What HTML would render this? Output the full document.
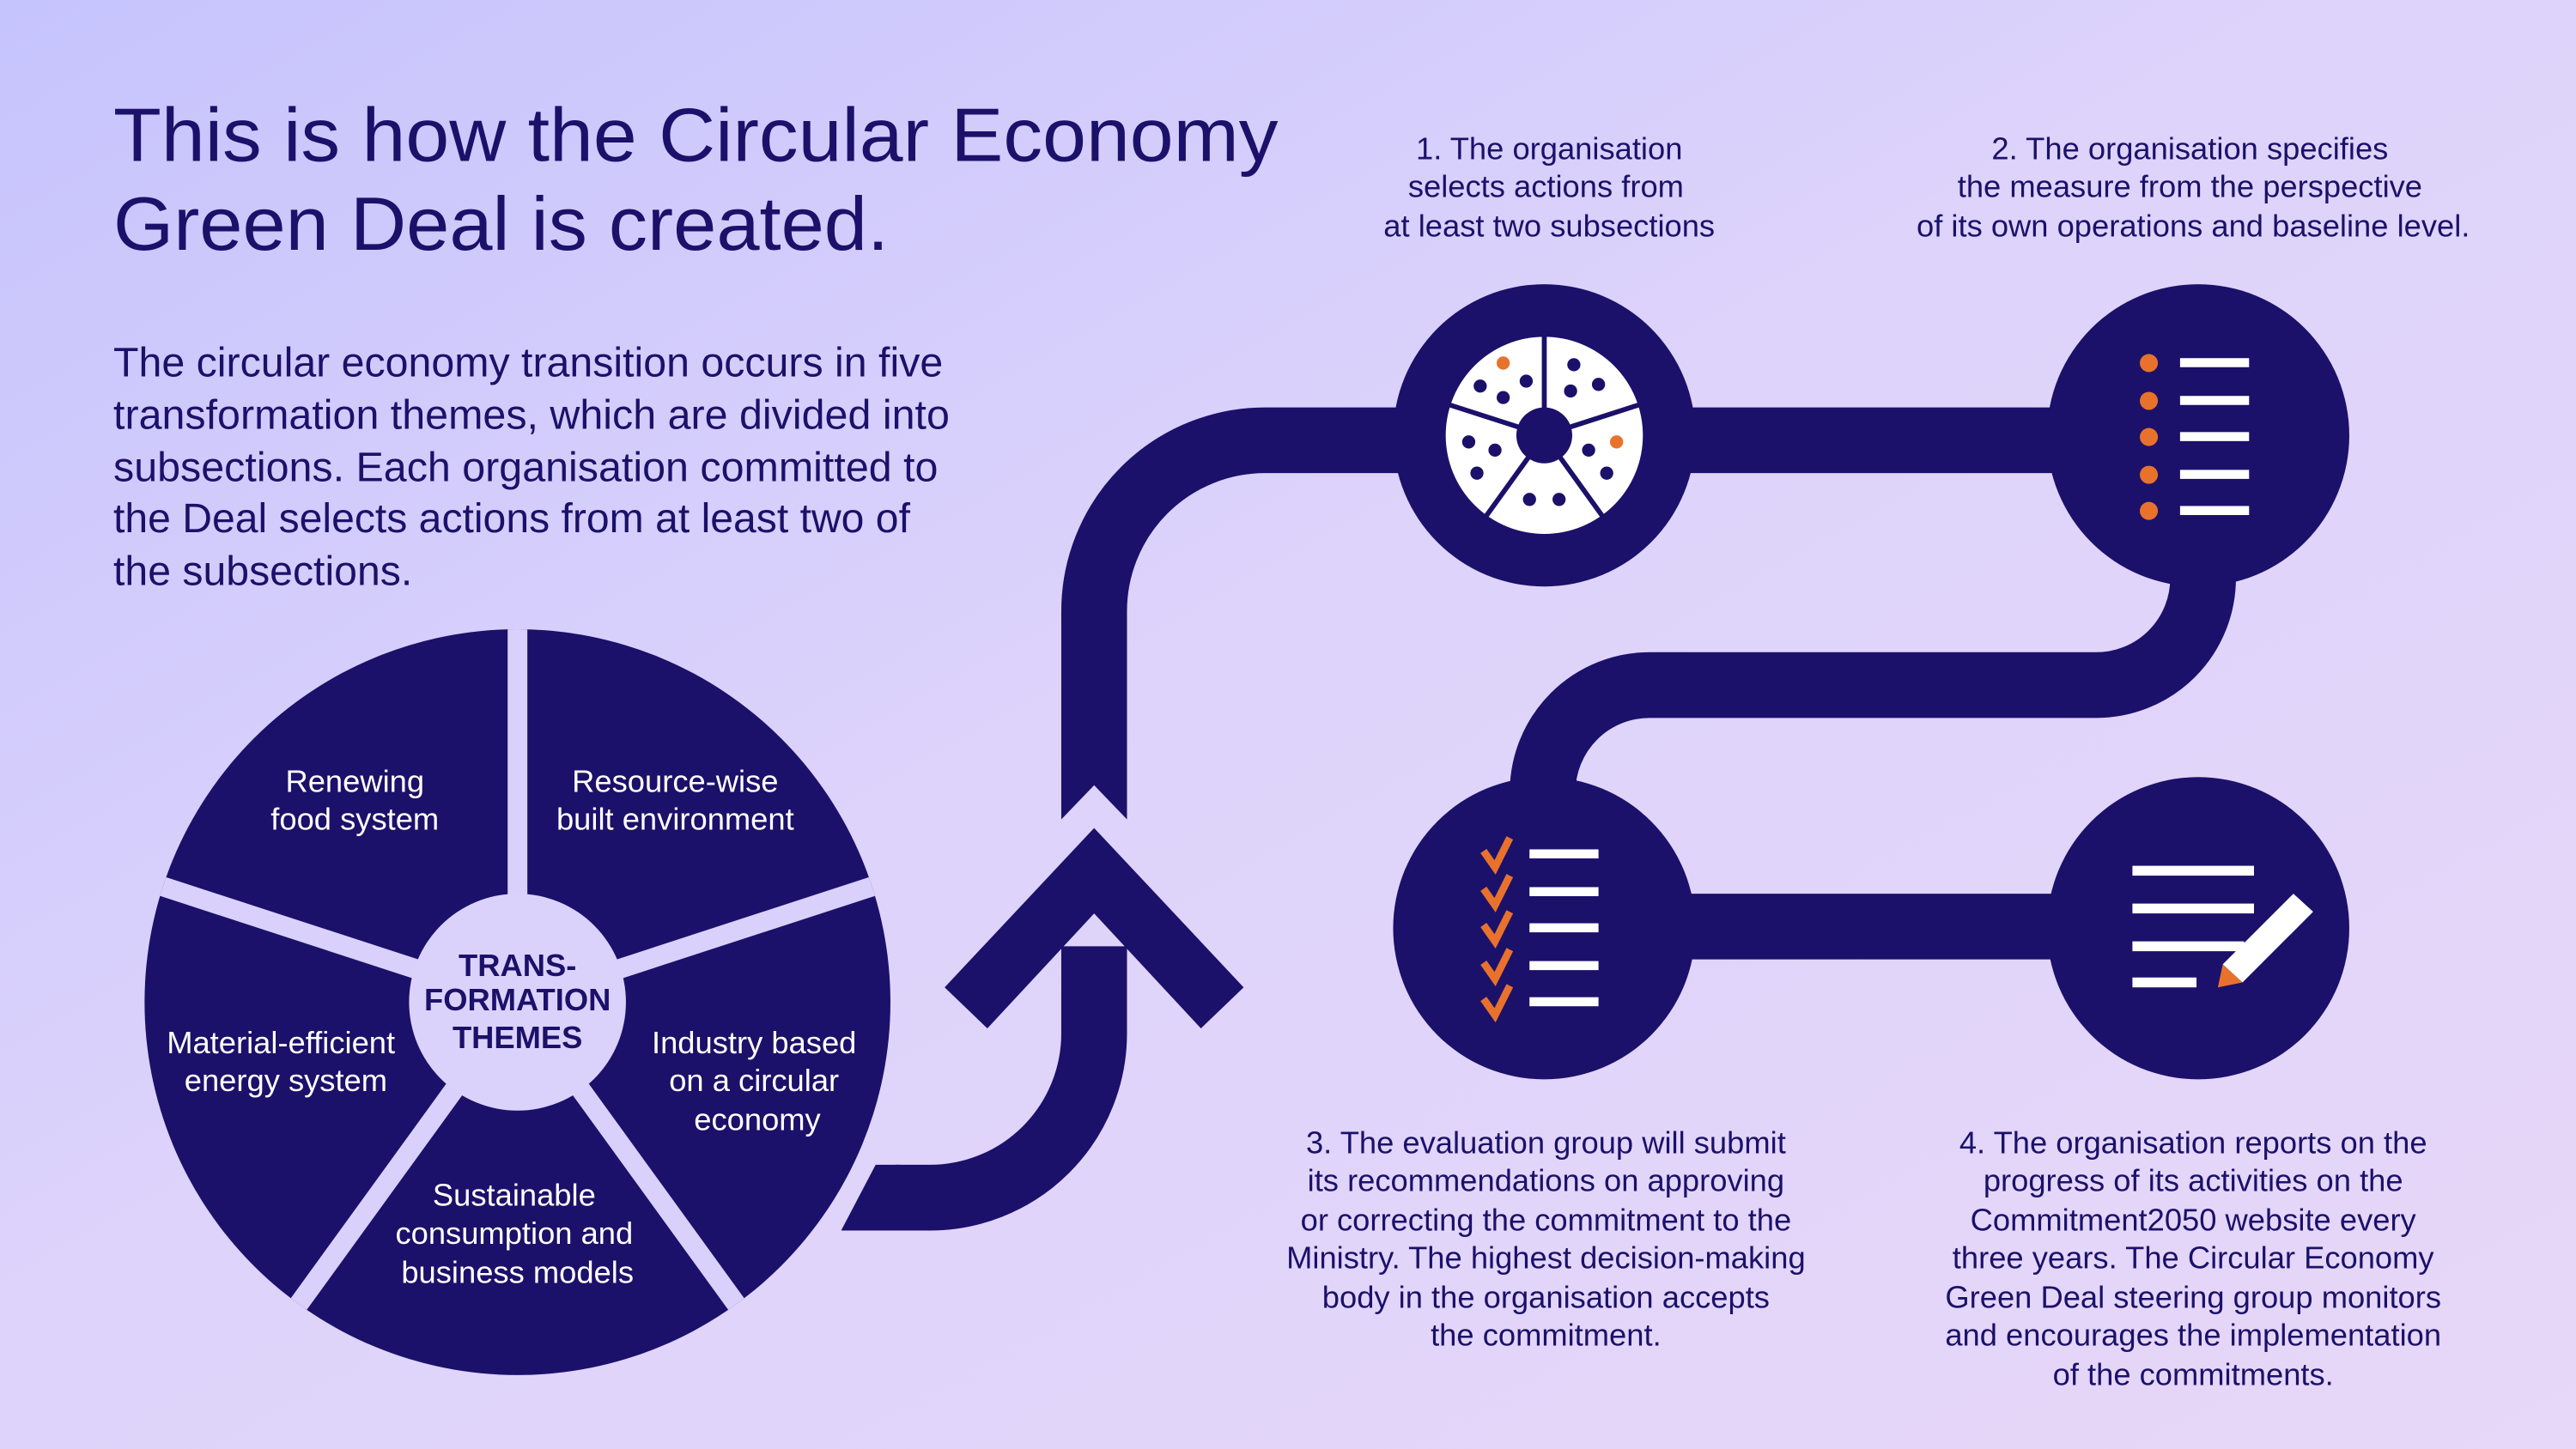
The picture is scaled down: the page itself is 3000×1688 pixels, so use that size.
<!DOCTYPE html>
<html><head><meta charset="utf-8"><style>
html,body{margin:0;padding:0;}
svg{display:block;}
text{font-family:"Liberation Sans",sans-serif;}
</style></head><body>
<svg width="3000" height="1688" viewBox="0 0 1568 882" preserveAspectRatio="none" xmlns="http://www.w3.org/2000/svg">
<defs>
<linearGradient id="bg" x1="0" y1="0" x2="1" y2="1">
<stop offset="0" stop-color="#c6c4fd"/>
<stop offset="0.45" stop-color="#ddd3fb"/>
<stop offset="1" stop-color="#e7d7f8"/>
</linearGradient>
<mask id="notch"><rect width="1568" height="882" fill="#fff"/><polygon points="640,505 666,478 692,505" fill="#000"/></mask>
<clipPath id="pc"><circle cx="315" cy="610" r="227"/></clipPath>
</defs>
<rect width="1568" height="882" fill="url(#bg)"/>
<g fill="#1b116a">
<text x="69" y="98" font-size="46" textLength="709" lengthAdjust="spacingAndGlyphs">This is how the Circular Economy</text>
<text x="69" y="152" font-size="46" textLength="472" lengthAdjust="spacingAndGlyphs">Green Deal is created.</text>
<g font-size="25">
<text x="69" y="229" textLength="505" lengthAdjust="spacingAndGlyphs">The circular economy transition occurs in five</text>
<text x="69" y="261" textLength="509" lengthAdjust="spacingAndGlyphs">transformation themes, which are divided into</text>
<text x="69" y="293" textLength="502" lengthAdjust="spacingAndGlyphs">subsections. Each organisation committed to</text>
<text x="69" y="324" textLength="485" lengthAdjust="spacingAndGlyphs">the Deal selects actions from at least two of</text>
<text x="69" y="356" textLength="182" lengthAdjust="spacingAndGlyphs">the subsections.</text>
</g>
<g font-size="19" text-anchor="middle">
<text x="943" y="97">1. The organisation</text>
<text x="941" y="120">selects actions from</text>
<text x="943" y="144">at least two subsections</text>
<text x="1333" y="97">2. The organisation specifies</text>
<text x="1333" y="120">the measure from the perspective</text>
<text x="1335" y="144">of its own operations and baseline level.</text>
<text x="941" y="702">3. The evaluation group will submit</text>
<text x="941" y="725">its recommendations on approving</text>
<text x="941" y="749">or correcting the commitment to the</text>
<text x="941" y="772">Ministry. The highest decision-making</text>
<text x="941" y="796">body in the organisation accepts</text>
<text x="941" y="819">the commitment.</text>
<text x="1335" y="702">4. The organisation reports on the</text>
<text x="1335" y="725">progress of its activities on the</text>
<text x="1335" y="749">Commitment2050 website every</text>
<text x="1335" y="772">three years. The Circular Economy</text>
<text x="1335" y="796">Green Deal steering group monitors</text>
<text x="1335" y="819">and encourages the implementation</text>
<text x="1335" y="843">of the commitments.</text>
</g>
</g>
<!-- pie -->
<circle cx="315" cy="610" r="227" fill="#1b116a"/>
<g stroke="#d9d1fb" stroke-width="12" clip-path="url(#pc)">
<line x1="315" y1="610" x2="315" y2="370"/>
<line x1="315" y1="610" x2="545" y2="535"/>
<line x1="315" y1="610" x2="457" y2="806"/>
<line x1="315" y1="610" x2="173" y2="806"/>
<line x1="315" y1="610" x2="85" y2="535"/>
</g>
<circle cx="315" cy="610" r="66" fill="#dbd2fb"/>
<g fill="#fff" font-size="19" text-anchor="middle">
<text x="216" y="482">Renewing</text><text x="216" y="505">food system</text>
<text x="411" y="482">Resource-wise</text><text x="411" y="505">built environment</text>
<text x="171" y="641">Material-efficient</text><text x="174" y="664">energy system</text>
<text x="459" y="641">Industry based</text><text x="459" y="664">on a circular</text><text x="461" y="688">economy</text>
<text x="313" y="734">Sustainable</text><text x="313" y="757">consumption and</text><text x="315" y="781">business models</text>
</g>
<g fill="#1b116a" font-size="19" font-weight="bold" text-anchor="middle">
<text x="315" y="594">TRANS-</text><text x="315" y="615">FORMATION</text><text x="315" y="638">THEMES</text>
</g>
<!-- path -->
<g fill="none" stroke="#1b116a" stroke-width="40">
<path d="M545,729 H566 A100,100 0 0 0 666,629 V576"/>
<path d="M666,499 V372 A104,104 0 0 1 770,268 H1340" mask="url(#notch)"/>
<path d="M1341,300 V352 A65,65 0 0 1 1276,417 H1004 A65,65 0 0 0 939,482"/>
<path d="M940,564 H1338"/>
</g>
<polygon points="512,749 533,709 548,709 548,749" fill="#1b116a"/>
<polygon points="575,601 666,504 757,601 731,626 666,556 601,626" fill="#1b116a"/>
<g fill="#1b116a">
<circle cx="940" cy="265" r="92"/><circle cx="1338" cy="265" r="92"/>
<circle cx="940" cy="565" r="92"/><circle cx="1338" cy="565" r="92"/>
</g>
<!-- icon 1 -->
<circle cx="940" cy="265" r="60" fill="#fff"/>
<g stroke="#1b116a" stroke-width="3">
<line x1="940" y1="265" x2="940" y2="203"/>
<line x1="940" y1="265" x2="999" y2="246"/>
<line x1="940" y1="265" x2="976" y2="315"/>
<line x1="940" y1="265" x2="904" y2="315"/>
<line x1="940" y1="265" x2="881" y2="246"/>
</g>
<circle cx="940" cy="265" r="17" fill="#1b116a"/>
<g fill="#1b116a">
<circle cx="929" cy="232" r="4"/><circle cx="901" cy="235" r="4"/><circle cx="915" cy="242" r="4"/>
<circle cx="958" cy="222" r="4"/><circle cx="973" cy="234" r="4"/><circle cx="956" cy="238" r="4"/>
<circle cx="967" cy="274" r="4"/><circle cx="978" cy="288" r="4"/>
<circle cx="894" cy="269" r="4"/><circle cx="910" cy="274" r="4"/><circle cx="899" cy="288" r="4"/>
<circle cx="931" cy="304" r="4"/><circle cx="949" cy="304" r="4"/>
</g>
<g fill="#e8722c"><circle cx="915" cy="221" r="4"/><circle cx="984" cy="269" r="4"/></g>
<!-- icon 2 -->
<g fill="#e8722c">
<circle cx="1308" cy="221" r="5.5"/><circle cx="1308" cy="244" r="5.5"/><circle cx="1308" cy="266" r="5.5"/><circle cx="1308" cy="289" r="5.5"/><circle cx="1308" cy="311" r="5.5"/>
</g>
<g fill="#fff">
<rect x="1327" y="218" width="42" height="5.5"/><rect x="1327" y="241" width="42" height="5.5"/><rect x="1327" y="263" width="42" height="5.5"/><rect x="1327" y="286" width="42" height="5.5"/><rect x="1327" y="308" width="42" height="5.5"/>
</g>
<!-- icon 3 -->
<g fill="#fff">
<rect x="931" y="517" width="42" height="5.5"/><rect x="931" y="540" width="42" height="5.5"/><rect x="931" y="562" width="42" height="5.5"/><rect x="931" y="585" width="42" height="5.5"/><rect x="931" y="607" width="42" height="5.5"/>
</g>
<g fill="none" stroke="#e8722c" stroke-width="4.5" stroke-linejoin="miter">
<path d="M903,518 L910,528 L919,510"/>
<path d="M903,541 L910,551 L919,533"/>
<path d="M903,563 L910,573 L919,555"/>
<path d="M903,586 L910,596 L919,578"/>
<path d="M903,608 L910,618 L919,600"/>
</g>
<!-- icon 4 -->
<g fill="#fff">
<rect x="1298" y="527" width="74" height="6"/><rect x="1298" y="550" width="74" height="6"/><rect x="1298" y="573" width="68" height="6"/><rect x="1298" y="595" width="39" height="6"/>
<polygon points="1396,544 1408,555 1365,598 1353,587"/>
</g>
<polygon points="1353,587 1365,598 1350,601" fill="#e8722c"/>
</svg>
</body></html>
